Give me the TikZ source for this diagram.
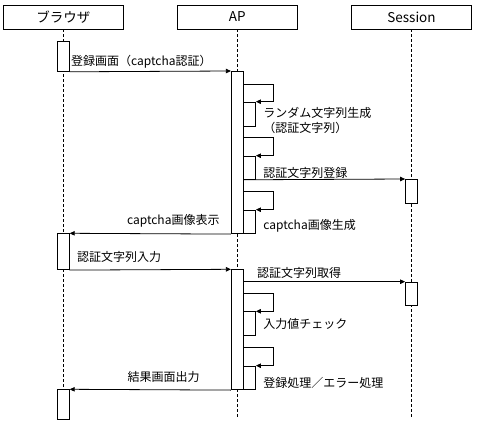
\documentclass[tikz,border=0pt]{standalone}
\usepackage{fontspec}
\setmainfont{Noto Sans CJK JP}
\usetikzlibrary{arrows.meta}

\begin{document}
\begin{tikzpicture}[x=1pt, y=-1pt, line width=0.8pt,
  every node/.style={font=\fontsize{12}{15}\selectfont},
  head/.style={draw, minimum width=120pt, minimum height=24pt, inner sep=0pt, font=\fontsize{13.5}{16}\selectfont},
  act/.style={draw, fill=white, minimum width=12pt, inner sep=0pt, anchor=north},
  lbl/.style={inner sep=1pt},
  life/.style={dash pattern=on 3pt off 2pt},
  msg/.style={-{Triangle[length=5pt,width=4.5pt]}}]
\useasboundingbox (0,0) rectangle (478,435);

%lifelines
\foreach \name/\x/\txt in {br/63.3/ブラウザ, ap/237.3/AP, ss/411.5/Session}
{
  \node[head] (\name) at (\x,17) {\txt};
  \draw[life] (\name.south) -- (\x,419) coordinate (\name end);
}

%activations
\foreach \name/\x/\ya/\yb in {b1/63.3/41.3/71, b2/63.3/233.3/269.3, b3/63.3/389.3/419.3,
    a1/237.3/71/233.3, a2/237.3/269.3/389.3, s1/411.5/179/203.3, s2/411.5/281.7/305,
    n1/249.5/101.7/125.7, n2/249.5/155.7/179, n3/249.5/209.7/233.3,
    n4/249.5/311.3/335, n5/249.5/365.7/389.3}
  \node[act, minimum height={\yb-\ya}] (\name) at (\x,\ya) {};

%self calls
\foreach \n/\yo in {n1/84, n2/137.3, n3/191.3, n4/293.3, n5/347.3}
  \draw[msg] (\n.west |- 0,\yo) -- ++(30,0) |- (\n.north east);

%messages
\draw[msg] (b1.south east) -- node[lbl, pos=0, anchor=south west, yshift=2pt] (m1) {登録画面（captcha認証）} (a1.north west);
\draw[msg] (n2.south west) -- (s1.north west);
\draw[msg] (a1.south west) -- node[lbl, pos=0, anchor=south east, xshift=-10pt, yshift=5pt] (m5) {captcha画像表示} (b2.north east);
\draw[msg] (b2.south east) -- node[lbl, pos=0, anchor=south west, xshift=6pt, yshift=6pt] (m6) {認証文字列入力} (a2.north west);
\draw[msg] (a2.east |- s2.north) -- node[lbl, pos=0, anchor=south west, xshift=12pt, yshift=2pt] (m7) {認証文字列取得} (s2.north west);
\draw[msg] (a2.south west) -- node[lbl, pos=0, anchor=south east, xshift=-30pt, yshift=6pt] (m10) {結果画面出力} (b3.north east);

%self call labels
\node[lbl, anchor=north west, align=left, yshift=-4.5pt] (t1) at ([xshift=6pt]n1.north east) {ランダム文字列生成\\（認証文字列）};
\node[lbl, anchor=south west] (t2) at ([xshift=6pt]n2.south east) {認証文字列登録};
\node[lbl, anchor=south west] (t3) at ([xshift=6pt]n3.south east) {captcha画像生成};
\node[lbl, anchor=west] (t4) at ([xshift=6pt]n4.east) {入力値チェック};
\node[lbl, anchor=south west] (t5) at ([xshift=6pt]n5.south east) {登録処理／エラー処理};
\end{tikzpicture}
\end{document}
